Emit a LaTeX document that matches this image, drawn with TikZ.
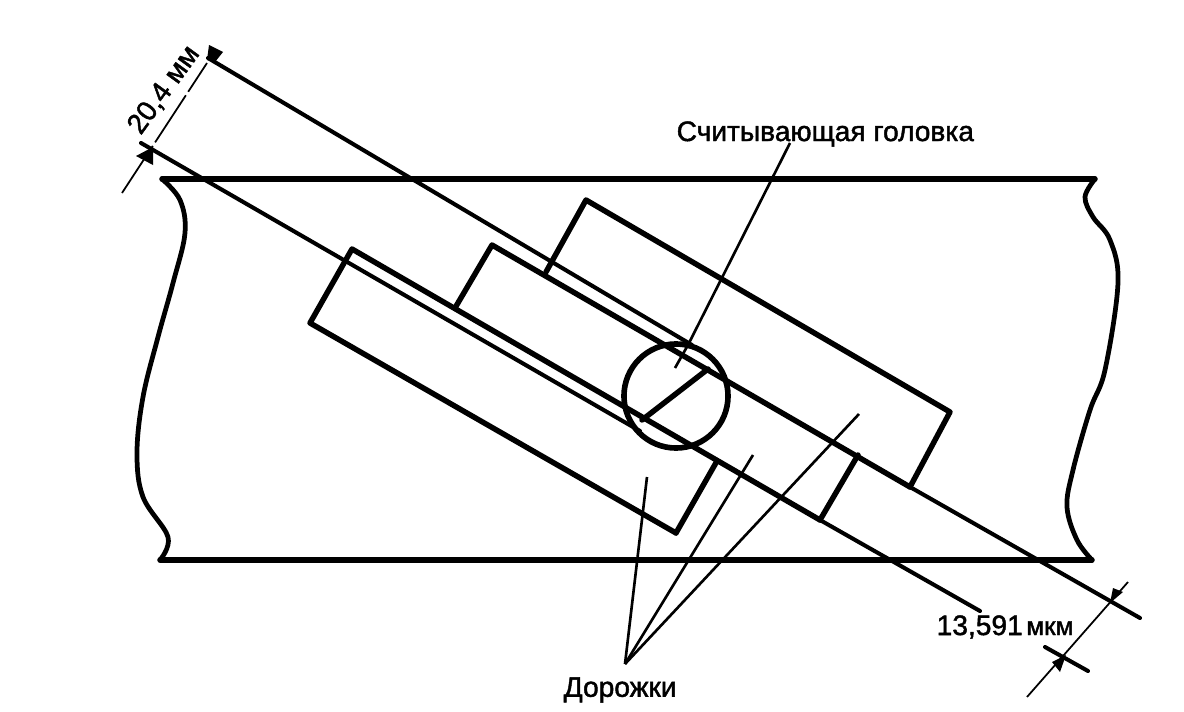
\documentclass[tikz,border=0pt]{standalone}
\usepackage{fontspec}
\setmainfont{Liberation Sans}[FakeBold=1.2]
\newfontfamily\labfont{Liberation Sans}[FakeBold=1.6]
\tikzset{
 thick line/.style={line width=1.55pt,line join=round,line cap=round},
 mid line/.style={line width=1.15pt,line join=round,line cap=round},
 thin line/.style={line width=0.5pt},
 leader/.style={line width=0.75pt},
 lab/.style={inner sep=0pt,font=\labfont\fontsize{8pt}{10pt}\selectfont},
}
\begin{document}
\begin{tikzpicture}[x=0.01cm,y=-0.01cm]
\useasboundingbox (0,0) rectangle (1184,712);
% band
\draw[thick line] (162,179) -- (1095,179);
\draw[thick line] (160,560) -- (1092,560);
\draw[mid line,line width=1.35pt] plot[smooth,tension=0.6] coordinates {(162,179) (180,200) (185,233) (173,283) (158,337) (143,397) (137,453) (143,497) (168,537) (160,560)};
\draw[mid line,line width=1.35pt] plot[smooth,tension=0.6] coordinates {(1095,179) (1085,197) (1093,217) (1110,240) (1118,283) (1105,370) (1090,410) (1073,470) (1067,507) (1077,540) (1092,560)};
% tracks
\coordinate (a1) at (352,249); \coordinate (a2) at (310,323); \coordinate (a3) at (676,533); \coordinate (a4) at (717,461);
\coordinate (b1) at (492,245); \coordinate (b2) at (455,308); \coordinate (b3) at (820,520); \coordinate (b4) at (858,455);
\coordinate (c1) at (586,200); \coordinate (c2) at (546,272); \coordinate (c3) at (950,412); \coordinate (c4) at (910,487);
\coordinate (dimA) at (141,143); \coordinate (dimAe) at (640,431);
\coordinate (dimB) at (208,58); \coordinate (dimBe) at (692,345);
\coordinate (endB) at (1140,618); \coordinate (endA) at (980,611);
\draw[thick line] (c2) -- (c1) -- (c3) -- (c4);
\draw[thick line] (b2) -- (b1) -- (c4);
\draw[mid line] (c4) -- (endB);
\draw[thick line] (a3) -- (a4);
\draw[thick line] (b4) -- (b3);
\draw[thick line] (b3) -- (a1) -- (a2) -- (a3);
\draw[mid line] (b3) -- (endA);
\draw[mid line] (dimA) -- (dimAe);
\draw[mid line] (dimB) -- (dimBe);
% head
\node[circle,draw,line width=1.6pt,minimum size=1.04cm,inner sep=0pt] (head) at (676,396) {};
\draw[thick line] (642,420) -- (708,369);
% leaders
\coordinate (l0) at (790,143); \coordinate (l1) at (688,345); \coordinate (l2) at (675,368);
\draw[leader] (l0) -- (l1) -- (l2);
\coordinate (d0) at (625,664);
\draw[leader] (d0) -- (647,477);
\draw[leader] (d0) -- (753,455);
\draw[leader] (d0) -- (859,414);
% dimensions
\coordinate (e1) at (122,193); \coordinate (e2) at (207,63);
\draw[thin line,dash pattern=on 16pt off 1.2pt] (e1) -- (e2);
\fill (153,147) -- (136,156) -- (153,165) -- cycle;
\fill (207,60) -- (209,45) -- (223,52) -- (215,62) -- cycle;
\coordinate (f1) at (1027,697); \coordinate (f2) at (1128,582);
\draw[thin line] (f1) -- (f2);
\draw[mid line] (1045,647) -- (1088,671);
\fill (1052,662) -- (1060,672) -- (1066,655) -- cycle;
\fill (1110,603) -- (1113,588) -- (1123,592) -- cycle;
% labels
\node[lab,rotate=54] (t1) at (164,90) {20,4 мм};
\node[lab,anchor=west] (t2) at (676,134) {Считывающая головка};
\node[lab,anchor=west] (t3) at (936,627) {13,591\kern1pt{\fontsize{7.4pt}{9pt}\selectfont мкм}};
\node[lab,anchor=west] (t4) at (563,690) {Дорожки};
\end{tikzpicture}
\end{document}
